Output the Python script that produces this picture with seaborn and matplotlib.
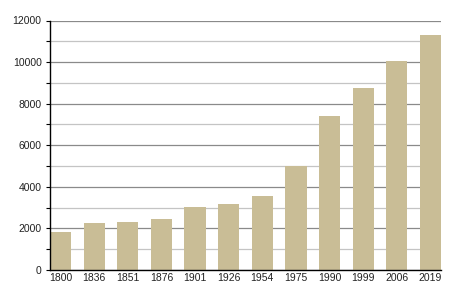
import matplotlib
matplotlib.use("Agg")
import matplotlib.pyplot as plt
import seaborn as sns
import pandas as pd
from matplotlib.ticker import MultipleLocator

years = ["1800", "1836", "1851", "1876", "1901", "1926", "1954", "1975", "1990", "1999", "2006", "2019"]
population = [1850, 2280, 2310, 2450, 3030, 3170, 3560, 5000, 7400, 8750, 10050, 11300]

df = pd.DataFrame({"year": years, "pop": population})

sns.set_theme(style="white")
plt.rcParams['font.family'] = ['Liberation Sans', 'DejaVu Sans']

fig = plt.figure(figsize=(4.5, 3), dpi=100)
ax = fig.add_axes([50/450, 30/300, 391/450, 249.5/300])

sns.barplot(data=df, x="year", y="pop", color="#C9BD96", saturation=1, width=0.63,
            ax=ax, linewidth=0, edgecolor="none")
for p in ax.patches:
    p.set_zorder(3)

ax.set_ylim(0, 12000)
n = len(years)
ax.set_xlim(-0.5 + (1-0.63)/2, n - 1 + 0.63/2)
ax.yaxis.set_major_locator(MultipleLocator(2000))
ax.yaxis.set_minor_locator(MultipleLocator(1000))
ax.grid(axis="y", which="major", color="#8a8a8a", linewidth=0.9, zorder=0)
ax.grid(axis="y", which="minor", color="#c4c4c4", linewidth=0.9, zorder=0)
ax.set_axisbelow(True)

for s in ["top", "right"]:
    ax.spines[s].set_visible(False)
for s in ["left", "bottom"]:
    ax.spines[s].set_visible(True)
    ax.spines[s].set_color("black")
    ax.spines[s].set_linewidth(1.0)
    ax.spines[s].set_zorder(4)

ax.tick_params(axis="y", which="major", left=True, length=3, width=0.8, color="black", labelsize=7.5, pad=3, labelcolor="#222222")
ax.tick_params(axis="y", which="minor", left=True, length=3, width=0.8, color="black")
ax.tick_params(axis="x", which="both", bottom=False, length=0, labelsize=7.5, pad=2, labelcolor="#222222")
ax.set_xlabel("")
ax.set_ylabel("")

fig.savefig("out.png", dpi=100)
